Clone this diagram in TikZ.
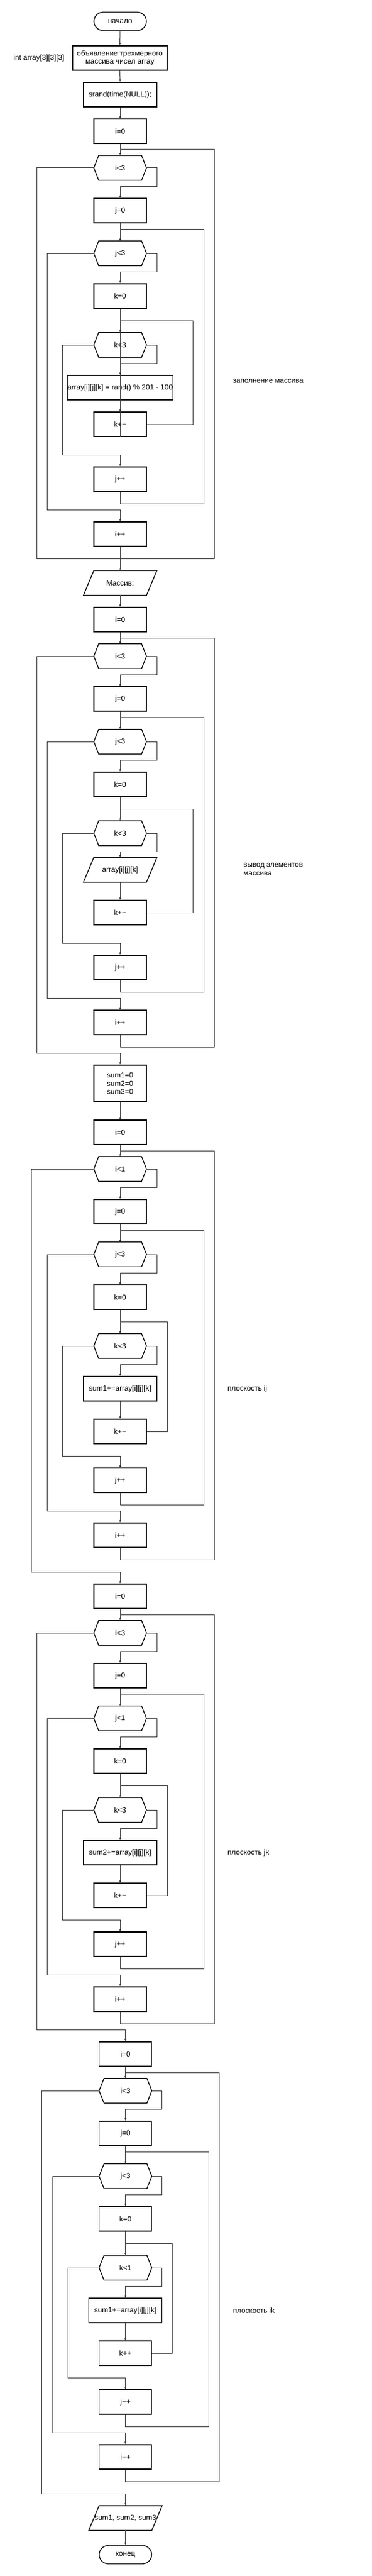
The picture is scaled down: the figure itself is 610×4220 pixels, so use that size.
\documentclass[tikz,border=0pt]{standalone}
\usepackage{fontspec}
\setmainfont{Liberation Sans}
\usetikzlibrary{arrows.meta}
\definecolor{linegray}{RGB}{60,60,60}
\newcommand\fs{\fontsize{12}{13.5}\selectfont}
\newcommand\hexfr[1]{\draw[shapeline] (#1.west) -- ([xshift=8pt]#1.north west) -- ([xshift=-8pt]#1.north east) -- (#1.east) -- ([xshift=-8pt]#1.south east) -- ([xshift=8pt]#1.south west) -- cycle;}
\newcommand\parafr[1]{\draw[shapeline] ([xshift=17pt]#1.north west) -- (#1.north east) -- ([xshift=-17pt]#1.south east) -- (#1.south west) -- cycle;}
\begin{document}
\begin{tikzpicture}[x=1pt,y=-1pt,
  shapeline/.style={draw=black, line width=1.3pt, line join=miter},
  proc/.style={draw=black, line width=1.3pt, minimum width=86pt, minimum height=40pt, inner sep=0pt, align=center, font=\fs},
  cond/.style={minimum width=86pt, minimum height=40pt, inner sep=0pt, font=\fs},
  io/.style={minimum width=120pt, minimum height=40pt, inner sep=0pt, font=\fs},
  term/.style={draw=black, line width=1.3pt, rounded corners=15pt, minimum width=86pt, minimum height=30pt, inner sep=0pt, font=\fs},
  note/.style={anchor=west, align=left, inner sep=0pt, font=\fs},
  conn/.style={draw=linegray, line width=1pt},
  arr/.style={conn, -{Latex[length=4pt,width=3.5pt]}}
]
\fill[white] (0,0) rectangle (610,4220);
\useasboundingbox (0,0) rectangle (610,4220);

% ---------------- section a: filling ----------------
\node[term] (start) at (197,35) {начало};
\node[proc, minimum width=155pt] (decl) at (196.5,95) {объявление трехмерного\\массива чисел array};
\node[note] (declnote) at (22,95) {int array[3][3][3]};
\node[proc, minimum width=120pt] (srand) at (197,155) {srand(time(NULL));};
\node[proc] (ai0) at (197,215) {i=0};
\node[cond] (ai) at (197,275) {i<3};
\node[proc] (aj0) at (197,345) {j=0};
\node[cond] (aj) at (197,415) {j<3};
\node[proc] (ak0) at (197,485) {k=0};
\node[cond] (ak) at (197,565) {k<3};
\node[proc, minimum width=172pt] (aset) at (197,635) {array[i][j][k] = rand() \% 201 - 100};
\node[proc] (akp) at (197,695) {k++};
\node[proc] (ajp) at (197,785) {j++};
\node[proc] (aip) at (197,875) {i++};
\node[io] (mas) at (197,955) {Массив:};
\node[note] (anote) at (382,624) {заполнение массива};
\coordinate (aJi) at (197,245);
\coordinate (aJj) at (197,375);
\coordinate (aJk) at (197,525);
\hexfr{ai} \hexfr{aj} \hexfr{ak} \parafr{mas}

\draw[arr] (start.south) -- (decl.north);
\draw[arr] (decl.south) -- (srand.north);
\draw[arr] (srand.south) -- (ai0.north);
\draw[arr] (ai0.south) -- (ai.north);
\draw[arr] (ai.east) -| (257,305) -| (aj0.north);
\draw[arr] (aj0.south) -- (aj.north);
\draw[arr] (aj.east) -| (257,445) -| (ak0.north);
\draw[arr] (ak0.south) -- (ak.north);
\draw[arr] (ak.east) -| (257,595) -| (aset.north);
\draw[arr] (aset.south) -- (akp.north);
\draw[conn] (akp.east) -| (316.7,525) -- (aJk);
\draw[conn] (aJk) -- (akp.south);
\draw[arr] (ak.west) -| (102.7,745) -| (ajp.north);
\draw[conn] (ajp.south) -- (197,825) -| (334,375) -- (aJj);
\draw[arr] (aj.west) -| (77.3,835) -| (aip.north);
\draw[arr] (aip.south) -- (mas.north);
\draw[conn] (ai.west) -| (60,915) -- (351,915) |- (aJi);

% ---------------- section b: output ----------------
\node[proc] (bi0) at (197,1015) {i=0};
\node[cond] (bi) at (197,1075) {i<3};
\node[proc] (bj0) at (197,1145) {j=0};
\node[cond] (bj) at (197,1215) {j<3};
\node[proc] (bk0) at (197,1285) {k=0};
\node[cond] (bk) at (197,1365) {k<3};
\node[io] (bout) at (197,1425) {array[i][j][k]};
\node[proc] (bkp) at (197,1495) {k++};
\node[proc] (bjp) at (197,1585) {j++};
\node[proc] (bip) at (197,1675) {i++};
\node[proc, minimum height=60pt] (sums) at (197,1775) {sum1=0\\sum2=0\\sum3=0};
\node[note] (bnote) at (399,1424.5) {вывод элементов\\массива};
\coordinate (bJi) at (197,1045);
\coordinate (bJj) at (197,1175);
\coordinate (bJk) at (197,1325);
\hexfr{bi} \hexfr{bj} \hexfr{bk} \parafr{bout}

\draw[arr] (mas.south) -- (bi0.north);
\draw[arr] (bi0.south) -- (bi.north);
\draw[arr] (bi.east) -| (257,1105) -| (bj0.north);
\draw[arr] (bj0.south) -- (bj.north);
\draw[arr] (bj.east) -| (257,1245) -| (bk0.north);
\draw[arr] (bk0.south) -- (bk.north);
\draw[arr] (bk.east) -| (257,1395) -| (bout.north);
\draw[arr] (bout.south) -- (bkp.north);
\draw[conn] (bkp.east) -| (316.7,1325) -- (bJk);
\draw[arr] (bk.west) -| (102.7,1545) -| (bjp.north);
\draw[conn] (bjp.south) -- (197,1625) -| (334,1175) -- (bJj);
\draw[arr] (bj.west) -| (77.3,1635) -| (bip.north);
\draw[conn] (bip.south) -- (197,1715) -| (351,1045) -- (bJi);
\draw[arr] (bi.west) -| (60,1725) -| (sums.north);

% ---------------- section c: plane ij ----------------
\node[proc] (ci0) at (197,1855) {i=0};
\node[cond] (ci) at (197,1915) {i<1};
\node[proc] (cj0) at (197,1985) {j=0};
\node[cond] (cj) at (197,2055) {j<3};
\node[proc] (ck0) at (197,2125) {k=0};
\node[cond] (ck) at (197,2205) {k<3};
\node[proc, minimum width=120pt] (csum) at (197,2275) {sum1+=array[i][j][k]};
\node[proc] (ckp) at (197,2345) {k++};
\node[proc] (cjp) at (197,2425) {j++};
\node[proc] (cip) at (197,2515) {i++};
\node[note] (cnote) at (373,2275) {плоскость ij};
\coordinate (cJi) at (197,1885);
\coordinate (cJj) at (197,2015);
\coordinate (cJk) at (197,2165);
\hexfr{ci} \hexfr{cj} \hexfr{ck}

\draw[arr] (sums.south) -- (ci0.north);
\draw[arr] (ci0.south) -- (ci.north);
\draw[arr] (ci.east) -| (257,1945) -| (cj0.north);
\draw[arr] (cj0.south) -- (cj.north);
\draw[arr] (cj.east) -| (257,2085) -| (ck0.north);
\draw[arr] (ck0.south) -- (ck.north);
\draw[arr] (ck.east) -| (257,2235) -| (csum.north);
\draw[arr] (csum.south) -- (ckp.north);
\draw[conn] (ckp.east) -| (274,2165) -- (cJk);
\draw[arr] (ck.west) -| (102.7,2385) -| (cjp.north);
\draw[conn] (cjp.south) -- (197,2465) -| (334,2015) -- (cJj);
\draw[arr] (cj.west) -| (77.3,2475) -| (cip.north);
\draw[conn] (cip.south) -- (197,2555) -| (351,1885) -- (cJi);

% ---------------- section d: plane jk ----------------
\node[proc] (di0) at (197,2615) {i=0};
\node[cond] (di) at (197,2675) {i<3};
\node[proc] (dj0) at (197,2745) {j=0};
\node[cond] (dj) at (197,2815) {j<1};
\node[proc] (dk0) at (197,2885) {k=0};
\node[cond] (dk) at (197,2965) {k<3};
\node[proc, minimum width=120pt] (dsum) at (197,3035) {sum2+=array[i][j][k]};
\node[proc] (dkp) at (197,3105) {k++};
\node[proc] (djp) at (197,3185) {j++};
\node[proc] (dip) at (197,3275) {i++};
\node[note] (dnote) at (373,3035) {плоскость jk};
\coordinate (dJi) at (197,2645);
\coordinate (dJj) at (197,2775);
\coordinate (dJk) at (197,2925);
\hexfr{di} \hexfr{dj} \hexfr{dk}

\draw[arr] (ci.west) -| (51.7,2575) -| (di0.north);
\draw[arr] (di0.south) -- (di.north);
\draw[arr] (di.east) -| (257,2705) -| (dj0.north);
\draw[arr] (dj0.south) -- (dj.north);
\draw[arr] (dj.east) -| (257,2845) -| (dk0.north);
\draw[arr] (dk0.south) -- (dk.north);
\draw[arr] (dk.east) -| (257,2995) -| (dsum.north);
\draw[arr] (dsum.south) -- (dkp.north);
\draw[conn] (dkp.east) -| (274,2925) -- (dJk);
\draw[arr] (dk.west) -| (102.7,3145) -| (djp.north);
\draw[conn] (djp.south) -- (197,3225) -| (334,2775) -- (dJj);
\draw[arr] (dj.west) -| (77.3,3235) -| (dip.north);
\draw[conn] (dip.south) -- (197,3315) -| (351,2645) -- (dJi);

% ---------------- section e: plane ik ----------------
\node[proc] (ei0) at (205.7,3365) {i=0};
\node[cond] (ei) at (205.7,3425) {i<3};
\node[proc] (ej0) at (205.7,3495) {j=0};
\node[cond] (ej) at (205.7,3565) {j<3};
\node[proc] (ek0) at (205.7,3635) {k=0};
\node[cond] (ek) at (205.7,3715) {k<1};
\node[proc, minimum width=120pt] (esum) at (205.7,3785) {sum1+=array[i][j][k]};
\node[proc] (ekp) at (205.7,3855) {k++};
\node[proc] (ejp) at (205.7,3935) {j++};
\node[proc] (eip) at (205.7,4025) {i++};
\node[io] (eout) at (205.7,4125) {sum1, sum2, sum3};
\node[term] (stop) at (205.7,4185) {конец};
\node[note] (enote) at (382,3785) {плоскость ik};
\coordinate (eJi) at (205.7,3395);
\coordinate (eJj) at (205.7,3525);
\coordinate (eJk) at (205.7,3675);
\hexfr{ei} \hexfr{ej} \hexfr{ek} \parafr{eout}

\draw[arr] (di.west) -| (60,3325) -| (ei0.north);
\draw[arr] (ei0.south) -- (ei.north);
\draw[arr] (ei.east) -| (265.7,3455) -| (ej0.north);
\draw[arr] (ej0.south) -- (ej.north);
\draw[arr] (ej.east) -| (265.7,3595) -| (ek0.north);
\draw[arr] (ek0.south) -- (ek.north);
\draw[arr] (ek.east) -| (265.7,3745) -| (esum.north);
\draw[arr] (esum.south) -- (ekp.north);
\draw[conn] (ekp.east) -| (282.7,3675) -- (eJk);
\draw[arr] (ek.west) -| (111.3,3895) -| (ejp.north);
\draw[conn] (ejp.south) -- (205.7,3975) -| (342.7,3525) -- (eJj);
\draw[arr] (ej.west) -| (86,3985) -| (eip.north);
\draw[conn] (eip.south) -- (205.7,4065) -| (359.7,3395) -- (eJi);
\draw[arr] (ei.west) -| (68.3,4085) -| (eout.north);
\draw[arr] (eout.south) -- (stop.north);
\end{tikzpicture}
\end{document}
